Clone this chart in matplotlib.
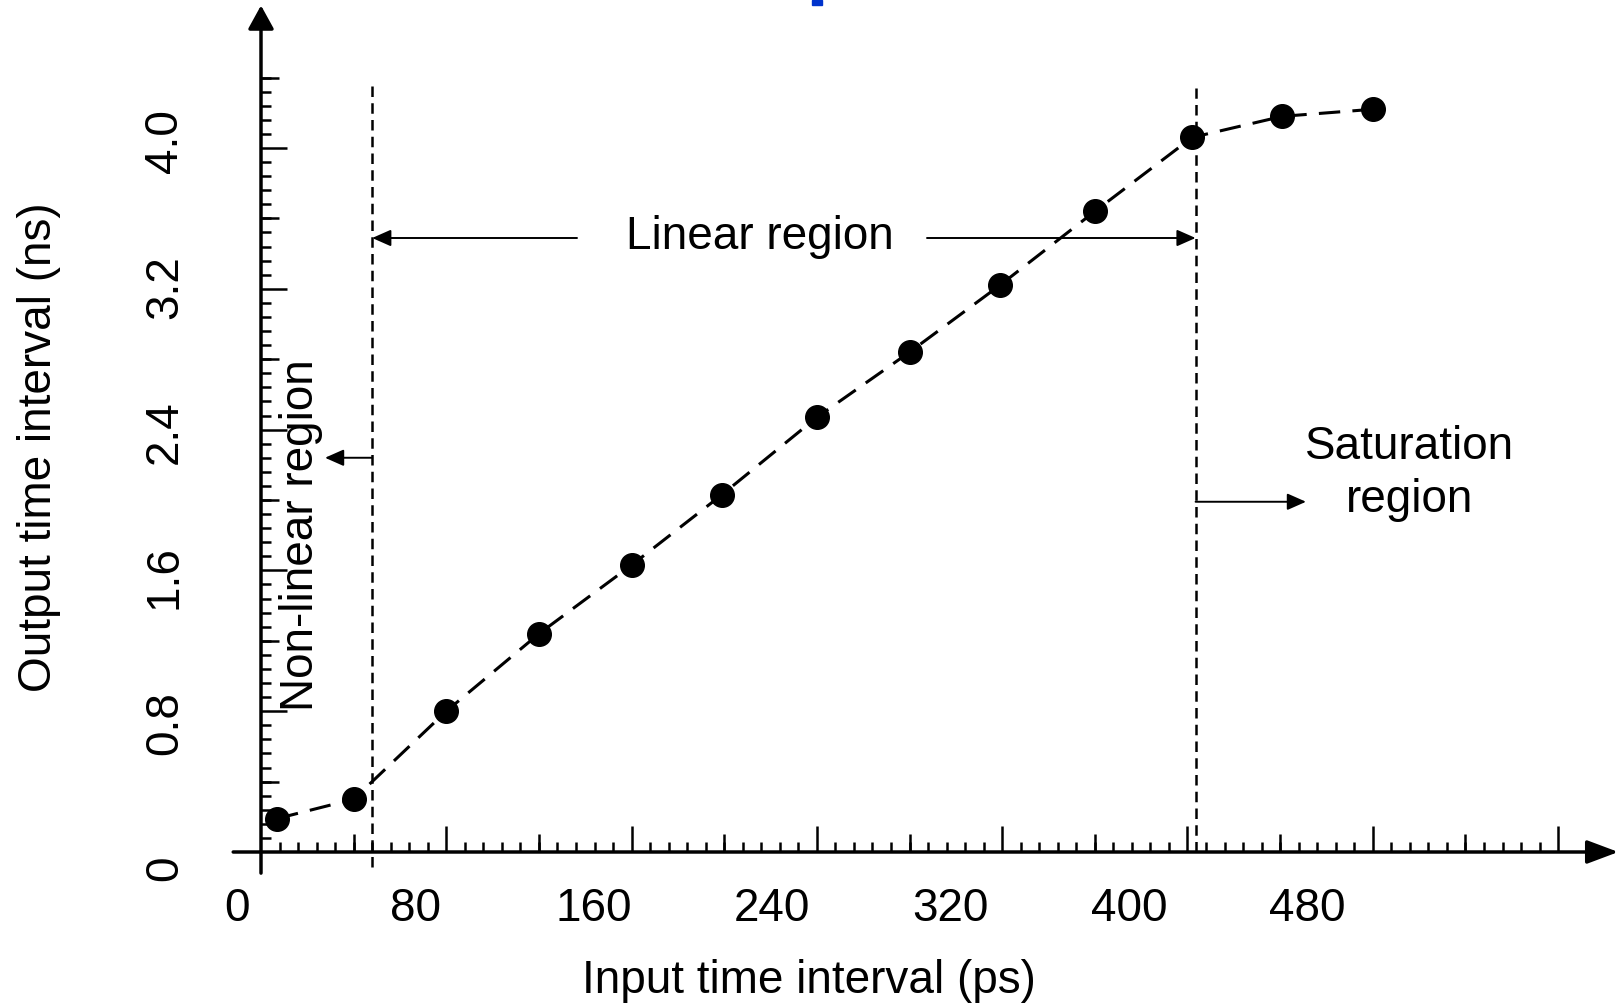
import numpy as np
import matplotlib
matplotlib.use("Agg")
import matplotlib.pyplot as plt
from matplotlib.patches import Rectangle

plt.rcParams['font.family'] = ['Liberation Sans', 'DejaVu Sans']

# dados
input_ps = [7, 40, 80, 120, 160, 199, 240, 280, 319, 360, 402, 441, 480]
output_ns = [0.19, 0.30, 0.80, 1.24, 1.63, 2.03, 2.47, 2.84, 3.22, 3.64, 4.06, 4.18, 4.22]

x_labels = [0, 80, 160, 240, 320, 400, 480]
y_labels = [0, 0.8, 1.6, 2.4, 3.2, 4.0]

limite_linear = 48
limite_saturacao = 403.5

# escala: pixels por unidade
px_x = 185.3 / 80
px_y = 176.0

fig = plt.figure(figsize=(16.23, 10.05), dpi=100)
ax = fig.add_axes([0, 0, 1, 1])
ax.set_xlim(-261 / px_x, (1623 - 261) / px_x)
ax.set_ylim(-(1005 - 852) / px_y, 852 / px_y)
ax.patch.set_alpha(0)

# eixos com seta
ax.annotate('', xy=(586, 0), xytext=(-12, 0),
            arrowprops=dict(arrowstyle='-|>,head_length=0.8,head_width=0.3',
                            mutation_scale=24, lw=2.5, color='k',
                            shrinkA=0, shrinkB=0))
ax.annotate('', xy=(0, 4.81), xytext=(0, -0.12),
            arrowprops=dict(arrowstyle='-|>,head_length=0.6,head_width=0.33',
                            mutation_scale=24, lw=2.5, color='k',
                            shrinkA=0, shrinkB=0))

for lado in ['top', 'right']:
    ax.spines[lado].set_visible(False)
for lado in ['left', 'bottom']:
    ax.spines[lado].set_position(('data', 0))
    ax.spines[lado].set_visible(False)

# ticks: grandes, medios e pequenos
ax.set_xticks(np.arange(80, 561, 80))
ax.set_xticks(np.arange(8, 561, 8), minor=True)
ax.set_yticks(np.arange(0.8, 4.41, 0.8))
ax.set_yticks(np.arange(0.08, 4.41, 0.08), minor=True)
ax.tick_params(which='major', direction='in', length=18.7, width=1.8,
               labelbottom=False, labelleft=False)
ax.tick_params(which='minor', direction='in', length=7.2, width=1.8)

medio_x = np.arange(40, 561, 80)
medio_y = np.arange(0.4, 4.41, 0.8)
ax.vlines(medio_x, 0, 18 / px_y, lw=1.8, color='k')
ax.hlines(medio_y, 0, 18 / px_x, lw=1.8, color='k')

fs = 33
# rotulos dos ticks (deslocados como no original)
for v in x_labels:
    ax.text(-10.4 + 0.963 * v, -0.392, f'{v:g}', fontsize=fs,
            ha='center', va='baseline')
for v in y_labels:
    txt = '0' if v == 0 else f'{v:.1f}'
    ax.text(-36.3, -0.091 + 1.032 * v, txt, fontsize=fs, rotation=90,
            rotation_mode='anchor', ha='center', va='baseline')

ax.text(236.5, -0.80, 'Input time interval (ps)', fontsize=fs,
        ha='center', va='baseline')
ax.text(-90.5, 2.30, 'Output time interval (ns)', fontsize=fs, rotation=90,
        rotation_mode='anchor', ha='center', va='baseline')

# linhas verticais das regioes
ax.plot([limite_linear, limite_linear], [-0.085, 4.38], color='k', lw=1.8,
        linestyle=(0, (4.2, 2.5)))
ax.plot([limite_saturacao, limite_saturacao], [0.0, 4.34], color='k', lw=1.8,
        linestyle=(0, (4.2, 2.5)))

# curva
ax.plot(input_ps, output_ns, color='k', lw=2.2, linestyle=(0, (7, 4)),
        marker='o', markersize=17, markerfacecolor='k', markeredgecolor='k',
        zorder=3)

estilo = dict(arrowstyle='-|>,head_length=0.95,head_width=0.42',
              mutation_scale=12, lw=1.4, color='k', shrinkA=0, shrinkB=0)

seta_linear = (852 - 238) / px_y
ax.text(215.5, 3.426, 'Linear region', fontsize=fs, ha='center', va='baseline')
ax.annotate('', xy=(limite_linear, seta_linear),
            xytext=((577 - 261) / px_x, seta_linear), arrowprops=estilo)
ax.annotate('', xy=(limite_saturacao, seta_linear),
            xytext=((927 - 261) / px_x, seta_linear), arrowprops=estilo)

ax.text(22.5, 1.80, 'Non-linear region', fontsize=fs, rotation=90,
        rotation_mode='anchor', ha='center', va='baseline')
ax.annotate('', xy=((325 - 261) / px_x, 2.24), xytext=(limite_linear, 2.24),
            arrowprops=estilo)

ax.text(496, 1.93, 'Saturation\nregion', fontsize=fs, ha='center',
        va='baseline', linespacing=1.28, multialignment='center')
ax.annotate('', xy=((1306 - 261) / px_x, 1.99), xytext=(limite_saturacao, 1.99),
            arrowprops=estilo)

# fragmento azul do titulo cortado
fig.patches.append(Rectangle((812 / 1623, 1 - 5 / 1005), 10 / 1623, 5 / 1005,
                             transform=fig.transFigure, color='#0033cc'))

fig.savefig('out.png', dpi=100)
